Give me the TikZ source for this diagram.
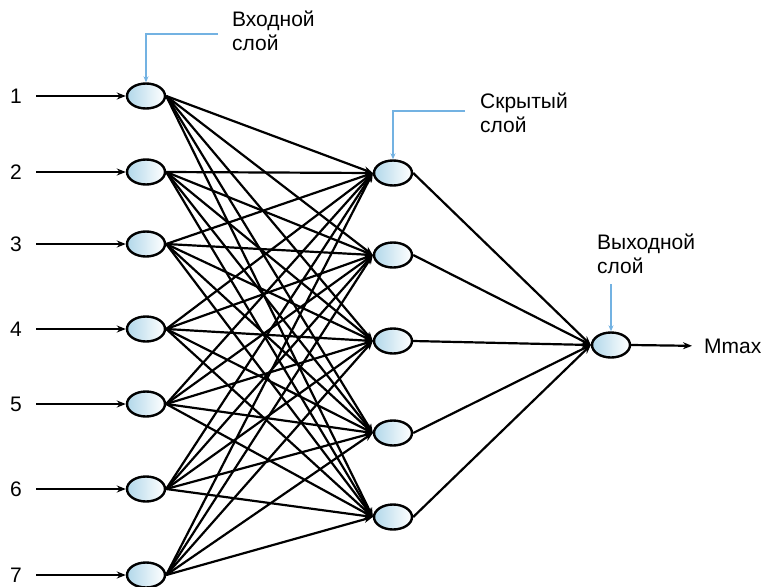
\documentclass[tikz,border=0pt]{standalone}
\usepackage{fontspec}
\setmainfont{Liberation Sans}
\usetikzlibrary{positioning, arrows.meta, shapes.geometric}

\definecolor{calloutblue}{RGB}{115,178,226}
\definecolor{cellblue}{RGB}{178,216,234}

\tikzset{
  neuron/.style={ellipse, draw=black, line width=2.4pt, minimum width=38pt,
    minimum height=25pt, inner sep=0pt, left color=cellblue, right color=white},
  link/.style={line width=2.2pt, -{Stealth[length=9pt,width=7pt]}},
  callout/.style={draw=calloutblue, line width=2.2pt, -{Stealth[length=6pt,width=5pt]}},
  lbl/.style={font=\fontsize{21}{24}\selectfont, inner sep=0pt},
  caption/.style={font=\fontsize{21}{24}\selectfont, align=left, anchor=north west, inner sep=0pt},
}

\begin{document}
\begin{tikzpicture}[x=1pt, y=-1pt]
  \useasboundingbox (0,0) rectangle (767,586);

  % ── Input layer ──
  \foreach \i/\y in {1/96, 2/172, 3/244, 4/329, 5/404, 6/489, 7/575} {
    \node[lbl] (n\i) at (16,\y) {\i};
    \node[neuron] (i\i) at (146,\y) {};
    \draw[link, shorten <=14pt] (n\i.east) -- (i\i.west);
  }

  % ── Hidden layer ──
  \foreach \j/\y in {1/173, 2/255, 3/341, 4/433, 5/517} {
    \node[neuron] (h\j) at (393,\y) {};
  }

  % ── Output layer ──
  \node[neuron] (o) at (611,345) {};
  \node[lbl, anchor=west] (mmax) at (704,346) {Mmax};
  \draw[link, shorten >=12pt] (o.east) -- (mmax.west);

  % Connections input -> hidden
  \foreach \i in {1,...,7} {
    \foreach \j in {1,...,5} {
      \draw[link] (i\i.east) -- (h\j.west);
    }
  }
  % Connections hidden -> output
  \foreach \j in {1,...,5} {
    \draw[link] (h\j.east) -- (o.west);
  }

  % ── Layer captions ──
  \node[caption] (capin) at (232,11) {Входной\\слой};
  \node[caption] (caphid) at (480,93) {Скрытый\\слой};
  \node[caption] (capout) at (597,234) {Выходной\\слой};

  \coordinate (kin) at (i1.north |- 0,34);
  \coordinate (khid) at (h1.north |- 0,111);
  \coordinate (kout) at (o.north |- 0,284);
  \draw[callout] (218,34) -- (kin) -- (i1.north);
  \draw[callout] (465,111) -- (khid) -- (h1.north);
  \draw[callout] (kout) -- (o.north);
\end{tikzpicture}
\end{document}
